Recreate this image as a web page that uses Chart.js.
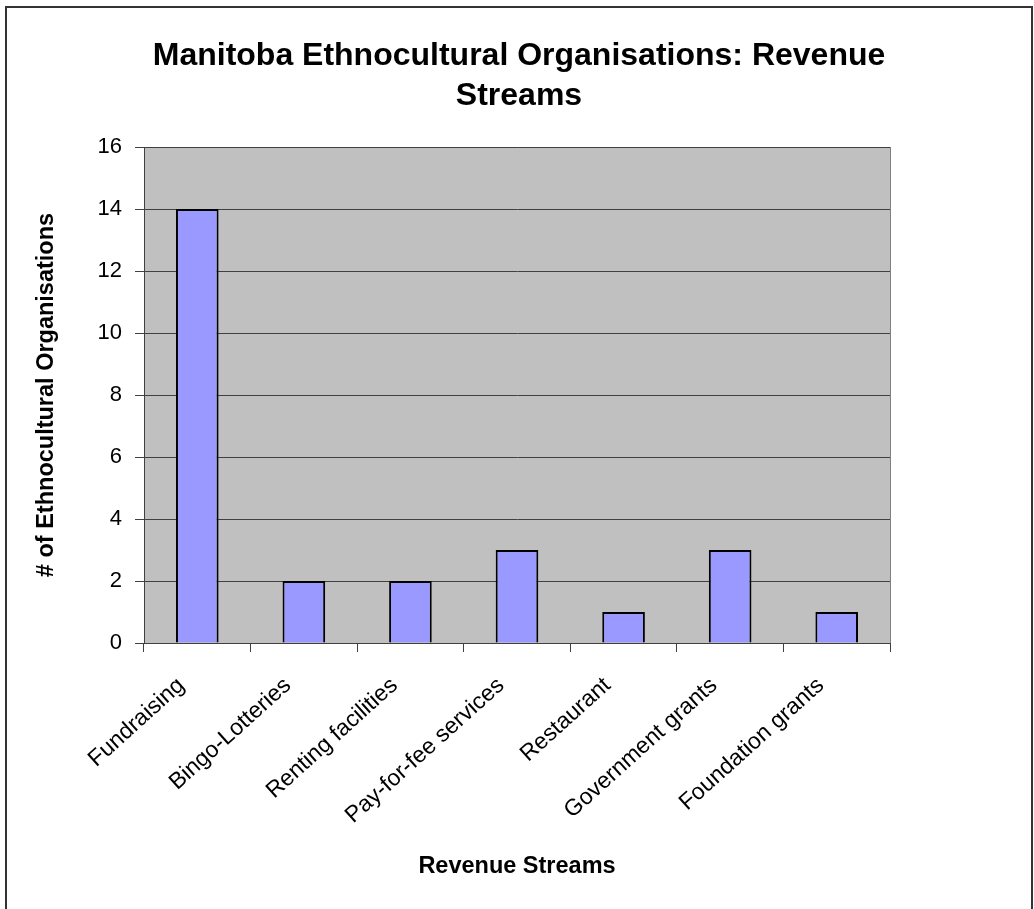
<!DOCTYPE html>
<html>
<head>
<meta charset="utf-8">
<title>Manitoba Ethnocultural Organisations: Revenue Streams</title>
<script src="https://cdn.jsdelivr.net/npm/chart.js@4"></script>
<style>
  html, body { margin: 0; padding: 0; background: #fff; }
  #wrap { position: relative; width: 1034px; height: 909px; }
</style>
</head>
<body>
<div id="wrap"><canvas id="chart" width="1034" height="909"></canvas></div>
<script>
// chart data
const categories = ["Fundraising", "Bingo-Lotteries", "Renting facilities", "Pay-for-fee services", "Restaurant", "Government grants", "Foundation grants"];
const orgCounts = [14, 2, 2, 3, 1, 3, 1];
const yTicks = [0, 2, 4, 6, 8, 10, 12, 14, 16];
const titleLines = ["Manitoba Ethnocultural Organisations: Revenue", "Streams"];

const FONT = "'Liberation Sans', Arial, sans-serif";

// gray plot area + outer frame, like the old excel chart
const plotBg = {
    id: "plotBg",
    beforeDraw(chart) {
        const c = chart.ctx;
        const a = chart.chartArea;
        c.save();
        c.fillStyle = "#fff";
        c.fillRect(0, 0, chart.width, chart.height);
        c.fillStyle = "#c0c0c0";
        c.fillRect(a.left, a.top, a.right - a.left, a.bottom - a.top);
        c.strokeStyle = "#808080";
        c.lineWidth = 1;
        c.strokeRect(a.left + 0.5, a.top + 0.5, a.right - a.left, a.bottom - a.top);
        c.strokeStyle = "#333";
        c.lineWidth = 2;
        c.strokeRect(6, 7, 1026, chart.height + 20);
        c.restore();
    },
    // title is centred on the whole picture, not on the plot
    afterDraw(chart) {
        const c = chart.ctx;
        c.save();
        c.fillStyle = "#000";
        c.font = "bold 32px " + FONT;
        c.textAlign = "center";
        c.textBaseline = "alphabetic";
        titleLines.forEach((t, i) => c.fillText(t, 519, 65 + i * 40));
        c.restore();
    }
};

new Chart(document.getElementById("chart"), {
    type: "bar",
    data: {
        labels: categories,
        datasets: [{
            data: orgCounts,
            backgroundColor: "#9999ff",
            borderColor: "#000",
            borderWidth: 2,
            barPercentage: 0.4,
            categoryPercentage: 1
        }]
    },
    options: {
        responsive: false,
        animation: false,
        layout: { padding: { left: 6, right: 144, top: 147, bottom: 0 } },
        plugins: {
            legend: { display: false },
            tooltip: { enabled: false },
            title: { display: false }
        },
        scales: {
            x: {
                grid: { offset: true, drawOnChartArea: false, tickLength: 9, color: "#404040", lineWidth: 1 },
                border: { color: "#404040", width: 1 },
                ticks: {
                    color: "#000",
                    font: { family: FONT, size: 23 },
                    maxRotation: 42,
                    minRotation: 42,
                    padding: 20,
                    labelOffset: -16
                },
                title: {
                    display: true,
                    text: "Revenue Streams",
                    color: "#000",
                    font: { family: FONT, size: 23.5, weight: "bold" },
                    padding: { bottom: 28 }
                },
                afterFit(scale) { scale.height = 266; }
            },
            y: {
                min: 0,
                max: 16,
                afterBuildTicks(scale) { scale.ticks = yTicks.map(v => ({ value: v })); },
                grid: { color: "#404040", lineWidth: 1, tickLength: 9, tickColor: "#404040" },
                border: { color: "#404040", width: 1 },
                ticks: {
                    color: "#000",
                    font: { family: FONT, size: 22 },
                    padding: 13
                },
                title: {
                    display: true,
                    text: "# of Ethnocultural Organisations",
                    color: "#000",
                    font: { family: FONT, size: 23.5, weight: "bold" },
                    padding: { top: 26 }
                },
                afterFit(scale) { scale.width = 138; }
            }
        }
    },
    plugins: [plotBg]
});
</script>
</body>
</html>
